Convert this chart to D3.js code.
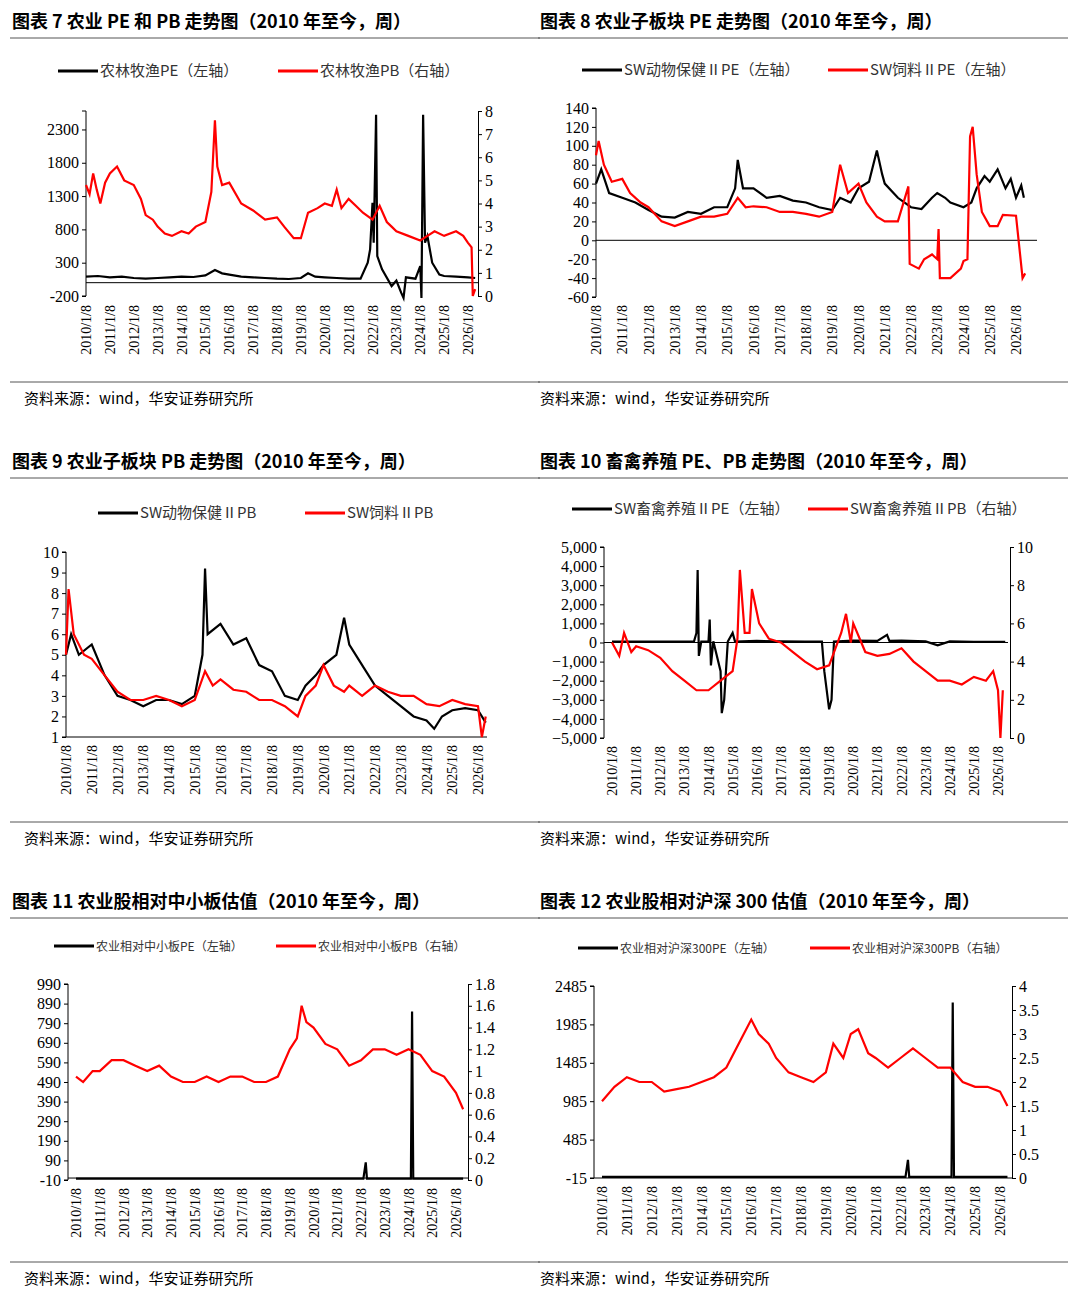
<!DOCTYPE html>
<html><head><meta charset="utf-8">
<script src="https://cdn.jsdelivr.net/npm/d3@7"></script>
<style>body{margin:0;background:#fff}</style></head>
<body><svg id="c" width="1080" height="1295"></svg>
<script>
const xTickLabels = d3.range(2010,2027).map(y=>y+"/1/8");
// [decimal year, value]
const c7PE = [[2010,90],[2010.5,100],[2011,80],[2011.5,90],[2012,70],[2012.5,60],[2013,70],[2013.5,80],[2014,90],[2014.5,85],[2015,110],[2015.4,190],[2015.7,140],[2016,120],[2016.5,90],[2017,80],[2017.5,70],[2018,60],[2018.5,55],[2019,70],[2019.3,140],[2019.6,90],[2020,80],[2020.5,70],[2021,60],[2021.5,60],[2021.8,300],[2021.9,500],[2022.0,1200],[2022.05,600],[2022.15,2520],[2022.2,400],[2022.4,200],[2022.8,-50],[2023.0,30],[2023.2,-150],[2023.3,-230],[2023.4,80],[2023.8,60],[2024.0,250],[2024.05,-230],[2024.12,2520],[2024.2,600],[2024.3,700],[2024.5,300],[2024.8,120],[2025,100],[2025.5,90],[2026,80],[2026.3,70]];
const c7PB = [[2010,4.8],[2010.15,4.4],[2010.3,5.3],[2010.45,4.6],[2010.6,4.0],[2010.8,4.9],[2011,5.3],[2011.3,5.6],[2011.6,5.0],[2012,4.8],[2012.3,4.2],[2012.5,3.5],[2012.8,3.3],[2013,3.0],[2013.3,2.7],[2013.6,2.6],[2014,2.8],[2014.3,2.7],[2014.6,3.0],[2015,3.2],[2015.25,4.5],[2015.4,7.6],[2015.5,5.6],[2015.7,4.8],[2016,4.9],[2016.5,4.0],[2017,3.7],[2017.5,3.3],[2018,3.4],[2018.3,3.0],[2018.7,2.5],[2019,2.5],[2019.3,3.6],[2019.7,3.8],[2020,4.0],[2020.3,3.9],[2020.5,4.6],[2020.7,3.8],[2021,4.2],[2021.3,3.9],[2021.6,3.6],[2022,3.3],[2022.3,3.9],[2022.6,3.2],[2022.8,3.0],[2023,2.8],[2023.5,2.6],[2024,2.4],[2024.3,2.6],[2024.6,2.8],[2025,2.6],[2025.5,2.8],[2025.8,2.6],[2026,2.3],[2026.15,2.1],[2026.2,0],[2026.3,0.3]];
const c8Animal = [[2010,60],[2010.2,75],[2010.5,50],[2011,45],[2011.5,40],[2012,32],[2012.5,25],[2013,24],[2013.5,30],[2014,28],[2014.5,35],[2015,35],[2015.3,55],[2015.4,85],[2015.6,55],[2016,55],[2016.5,45],[2017,47],[2017.5,42],[2018,40],[2018.5,35],[2019,32],[2019.3,45],[2019.7,40],[2020,55],[2020.4,62],[2020.7,95],[2020.9,70],[2021,60],[2021.5,45],[2022,35],[2022.4,33],[2022.8,45],[2023,50],[2023.3,45],[2023.5,40],[2024,35],[2024.3,40],[2024.5,55],[2024.8,68],[2025,62],[2025.3,75],[2025.6,55],[2025.8,65],[2026,45],[2026.2,58],[2026.3,45]];
const c8Feed = [[2010,90],[2010.1,105],[2010.3,80],[2010.6,62],[2011,65],[2011.3,50],[2011.7,40],[2012,35],[2012.5,20],[2013,15],[2013.5,20],[2014,25],[2014.5,25],[2015,28],[2015.4,45],[2015.7,35],[2016,36],[2016.5,35],[2017,30],[2017.5,30],[2018,28],[2018.5,25],[2019,30],[2019.3,80],[2019.6,50],[2020,60],[2020.3,40],[2020.7,25],[2021,20],[2021.5,20],[2021.9,57],[2021.95,-25],[2022.3,-30],[2022.5,-20],[2022.8,-15],[2023.0,-20],[2023.05,12],[2023.1,-40],[2023.5,-40],[2023.9,-30],[2024.0,-22],[2024.15,-20],[2024.25,110],[2024.35,120],[2024.5,70],[2024.7,30],[2025,15],[2025.3,15],[2025.5,27],[2026,26],[2026.25,-40],[2026.35,-35]];
const c9Animal = [[2010,5],[2010.2,6],[2010.5,5],[2011,5.5],[2011.5,4],[2012,3],[2012.5,2.8],[2013,2.5],[2013.5,2.8],[2014,2.8],[2014.5,2.6],[2015,3],[2015.3,5],[2015.4,9.2],[2015.5,6],[2016,6.5],[2016.5,5.5],[2017,5.8],[2017.5,4.5],[2018,4.2],[2018.5,3],[2019,2.8],[2019.3,3.5],[2019.7,4],[2020,4.5],[2020.5,5],[2020.8,6.8],[2021,5.5],[2021.5,4.5],[2022,3.5],[2022.5,3],[2023,2.5],[2023.5,2],[2024,1.8],[2024.3,1.4],[2024.6,2],[2025,2.3],[2025.5,2.4],[2026,2.3],[2026.3,1.7]];
const c9Feed = [[2010,5],[2010.1,8.2],[2010.3,6],[2010.7,5],[2011,4.8],[2011.5,4],[2012,3.2],[2012.5,2.8],[2013,2.8],[2013.5,3],[2014,2.8],[2014.5,2.5],[2015,2.8],[2015.4,4.2],[2015.7,3.5],[2016,3.8],[2016.5,3.3],[2017,3.2],[2017.5,2.8],[2018,2.8],[2018.5,2.5],[2019,2.0],[2019.3,3],[2019.7,3.5],[2020,4.5],[2020.4,3.5],[2020.8,3.2],[2021,3.5],[2021.5,3],[2022,3.5],[2022.5,3.2],[2023,3],[2023.5,3],[2024,2.6],[2024.5,2.5],[2025,2.8],[2025.5,2.6],[2026,2.5],[2026.15,1],[2026.3,2]];
const c10PE = [[2010,50],[2012,50],[2013.4,60],[2013.5,500],[2013.55,3800],[2013.6,-700],[2013.7,50],[2014.0,60],[2014.05,1200],[2014.1,-1200],[2014.2,60],[2014.5,-1500],[2014.55,-3700],[2014.65,-3000],[2014.8,50],[2015.0,500],[2015.1,50],[2016,80],[2017,60],[2018,50],[2018.7,50],[2018.8,-1500],[2019.0,-3500],[2019.1,-3000],[2019.2,50],[2020,100],[2021,80],[2021.4,400],[2021.5,80],[2022,100],[2023,60],[2023.5,-150],[2024,60],[2025,40],[2026.3,30]];
const c10PB = [[2010,5],[2010.3,4.3],[2010.5,5.5],[2010.8,4.5],[2011,4.8],[2011.5,4.6],[2012,4.2],[2012.5,3.5],[2013,3],[2013.5,2.5],[2014,2.5],[2014.5,3],[2015,3.5],[2015.2,5.2],[2015.3,8.8],[2015.5,5.5],[2015.7,5.5],[2015.8,7.8],[2016.1,6],[2016.5,5.2],[2017,5],[2017.5,4.5],[2018,4],[2018.5,3.6],[2019,3.8],[2019.5,5.5],[2019.7,6.5],[2019.9,5],[2020,6],[2020.5,4.5],[2021,4.3],[2021.5,4.4],[2022,4.7],[2022.5,4],[2023,3.5],[2023.5,3],[2024,3],[2024.5,2.8],[2025,3.2],[2025.5,3],[2025.8,3.5],[2026,2.5],[2026.1,0],[2026.2,2.5]];
const c11PE = [[2010,-3],[2022.1,-3],[2022.2,80],[2022.25,-3],[2024.1,-3],[2024.15,850],[2024.2,-3],[2026.3,-3]];
const c11PB = [[2010,0.95],[2010.3,0.9],[2010.7,1.0],[2011,1.0],[2011.5,1.1],[2012,1.1],[2012.5,1.05],[2013,1.0],[2013.5,1.05],[2014,0.95],[2014.5,0.9],[2015,0.9],[2015.5,0.95],[2016,0.9],[2016.5,0.95],[2017,0.95],[2017.5,0.9],[2018,0.9],[2018.5,0.95],[2019,1.2],[2019.3,1.3],[2019.5,1.6],[2019.7,1.45],[2020,1.4],[2020.5,1.25],[2021,1.2],[2021.5,1.05],[2022,1.1],[2022.5,1.2],[2023,1.2],[2023.5,1.15],[2024,1.2],[2024.5,1.15],[2025,1.0],[2025.5,0.95],[2026,0.8],[2026.3,0.65]];
const c12PE = [[2010,0],[2022.2,0],[2022.3,220],[2022.35,0],[2024.05,0],[2024.1,2270],[2024.15,0],[2026.3,0]];
const c12PB = [[2010,1.6],[2010.5,1.9],[2011,2.1],[2011.5,2.0],[2012,2.0],[2012.5,1.8],[2013,1.85],[2013.5,1.9],[2014,2.0],[2014.5,2.1],[2015,2.3],[2015.5,2.8],[2016,3.3],[2016.3,3.0],[2016.7,2.8],[2017,2.5],[2017.5,2.2],[2018,2.1],[2018.5,2.0],[2019,2.2],[2019.3,2.8],[2019.7,2.5],[2020,3.0],[2020.3,3.1],[2020.7,2.6],[2021,2.5],[2021.5,2.3],[2022,2.5],[2022.5,2.7],[2023,2.5],[2023.5,2.3],[2024,2.3],[2024.5,2.0],[2025,1.9],[2025.5,1.9],[2026,1.8],[2026.3,1.5]];

const svg=d3.select("#c");
const serif="'Liberation Serif','Noto Sans CJK SC',serif";
const cjk="'Noto Sans CJK SC',sans-serif";

function frame(x0,yT,title,so){
  svg.append("text").attr("x",x0+2).attr("y",yT).attr("font-family",cjk).attr("font-weight","bold").attr("font-size",18).text(title);
  svg.append("line").attr("x1",x0).attr("x2",x0+530).attr("y1",yT+10).attr("y2",yT+10).attr("stroke","#555");
  svg.append("line").attr("x1",x0).attr("x2",x0+530).attr("y1",yT+354).attr("y2",yT+354).attr("stroke","#555");
  svg.append("text").attr("x",x0+so).attr("y",yT+376).attr("font-family",cjk).attr("font-size",15).text("资料来源：wind，华安证券研究所");
}
frame(10,28,"图表 7  农业 PE 和 PB 走势图（2010 年至今，周）",14);
frame(538,28,"图表 8  农业子板块 PE 走势图（2010 年至今，周）",2);
frame(10,468,"图表 9  农业子板块 PB 走势图（2010 年至今，周）",14);
frame(538,468,"图表 10  畜禽养殖 PE、PB 走势图（2010 年至今，周）",2);
frame(10,908,"图表 11  农业股相对中小板估值（2010 年至今，周）",14);
frame(538,908,"图表 12  农业股相对沪深 300 估值（2010 年至今，周）",2);

function panel(p){
  const x=d3.scaleLinear().domain([2010,2026]).range(p.xr);
  const yL=d3.scaleLinear().domain(p.ld).range(p.yr);
  const yR=p.rd?d3.scaleLinear().domain(p.rd).range(p.yr):null;
  const g=svg.append("g");
  const ax=g.append("g").attr("transform",`translate(${p.lx},0)`).call(d3.axisLeft(yL).tickValues(p.lt).tickSize(4).tickFormat(p.lf||(d=>d)));
  ax.select(".domain").attr("d",`M-4,${p.yr[0]}H0V${p.yr[1]}H-4`);
  ax.selectAll("text").attr("font-family",serif).attr("font-size",p.fs||16);
  if(yR){
    const ar=g.append("g").attr("transform",`translate(${p.rx},0)`).call(d3.axisRight(yR).tickValues(p.rt).tickSize(4).tickFormat(d=>d));
    ar.selectAll("text").attr("font-family",serif).attr("font-size",p.fs||16);
  }
  const ay=yL(p.axv);
  const xa=g.append("g").attr("transform",`translate(0,${ay})`).call(d3.axisBottom(x).tickValues(d3.range(2010,2027)).tickSize(0).tickFormat(""));
  xa.select(".domain").attr("d",`M${p.lx},0H${p.xe}`);
  xTickLabels.forEach((t,i)=>{
    g.append("text").attr("transform",`translate(${x(2010+i)+5},${p.lt0}) rotate(-90)`).attr("text-anchor","end")
     .attr("font-family",serif).attr("font-size",14).text(t);
  });
  const ln=(data,ys,col)=>g.append("path").datum(data).attr("fill","none").attr("stroke",col).attr("stroke-width",2.2)
     .attr("d",d3.line().x(d=>x(d[0])).y(d=>ys(d[1])));
  ln(p.b,yL,"#000");
  ln(p.r,p.rOnLeft?yL:yR,"#f00");
  const lg=(x0,txt,col)=>{g.append("line").attr("x1",x0).attr("x2",x0+40).attr("y1",p.ly).attr("y2",p.ly).attr("stroke",col).attr("stroke-width",3);
    g.append("text").attr("x",x0+42).attr("y",p.ly+5).attr("font-family",cjk).attr("font-size",p.lfs||15).attr("fill","#333").text(txt);};
  lg(p.l1[0],p.l1[1],"#000"); lg(p.l2[0],p.l2[1],"#f00");
}
panel({xr:[86,468],xe:478,lx:86,rx:478,ld:[-200,2577],rd:[0,8],yr:[296,111],lt:[-200,300,800,1300,1800,2300],rt:d3.range(0,9),axv:0,lt0:305,b:c7PE,r:c7PB,ly:71,l1:[58,"农林牧渔PE（左轴）"],l2:[278,"农林牧渔PB（右轴）"]});
panel({xr:[596,1016],xe:1037,lx:596,ld:[-60,140],yr:[297,108],lt:d3.range(-60,141,20),axv:0,lt0:305,b:c8Animal,r:c8Feed,rOnLeft:true,ly:70,l1:[582,"SW动物保健ⅡPE（左轴）"],l2:[828,"SW饲料ⅡPE（左轴）"]});
panel({xr:[66,478],xe:487,lx:66,ld:[1,10],yr:[737,552],lt:d3.range(1,11),axv:1,lt0:745,b:c9Animal,r:c9Feed,rOnLeft:true,ly:513,l1:[98,"SW动物保健ⅡPB"],l2:[305,"SW饲料ⅡPB"]});
panel({xr:[612,998],xe:1008,lx:604,rx:1010,ld:[-5000,5000],rd:[0,10],yr:[738,547],lt:d3.range(-5000,5001,1000),lf:d3.format(","),rt:[0,2,4,6,8,10],axv:0,lt0:746,b:c10PE,r:c10PB,ly:509,l1:[572,"SW畜禽养殖ⅡPE（左轴）"],l2:[808,"SW畜禽养殖ⅡPB（右轴）"]});
panel({xr:[76,456],xe:468,lx:68,rx:468,ld:[-10,990],rd:[0,1.8],yr:[1180,984],lt:d3.range(-10,991,100),rt:[0,0.2,0.4,0.6,0.8,1,1.2,1.4,1.6,1.8],axv:0,lt0:1188,b:c11PE,r:c11PB,ly:946,lfs:12,l1:[54,"农业相对中小板PE（左轴）"],l2:[276,"农业相对中小板PB（右轴）"]});
panel({xr:[602,1000],xe:1012,lx:594,rx:1012,ld:[-15,2485],rd:[0,4],yr:[1178,986],lt:[-15,485,985,1485,1985,2485],rt:[0,0.5,1,1.5,2,2.5,3,3.5,4],axv:-15,lt0:1186,b:c12PE,r:c12PB,ly:948,lfs:12,l1:[578,"农业相对沪深300PE（左轴）"],l2:[810,"农业相对沪深300PB（右轴）"]});
</script></body></html>
